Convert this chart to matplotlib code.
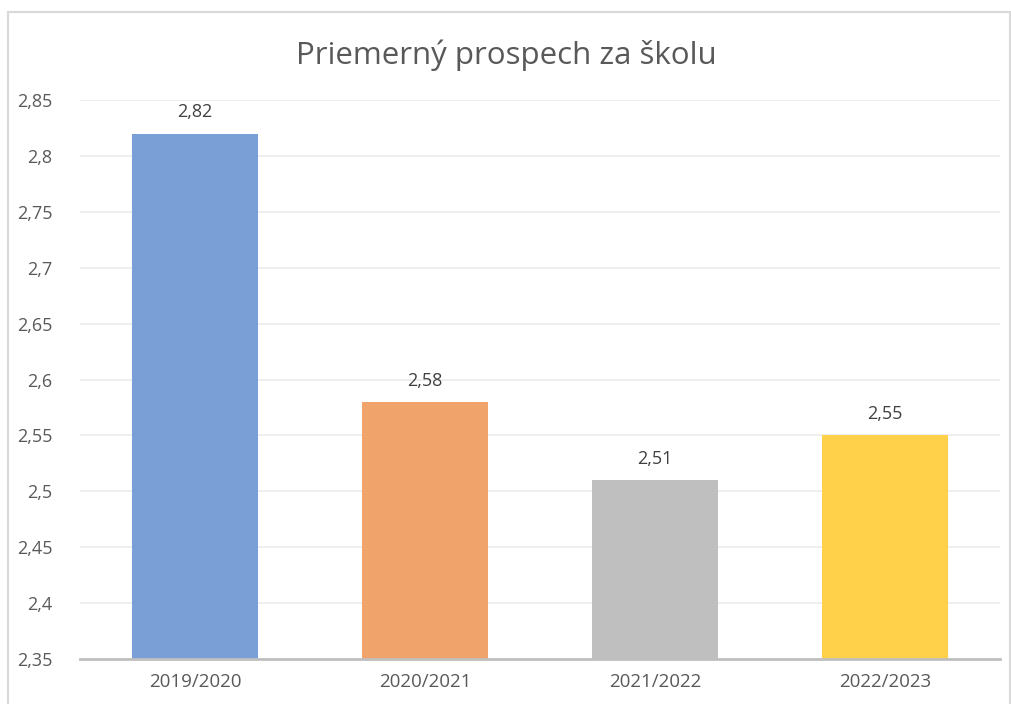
import numpy as np
import matplotlib.pyplot as plt
from matplotlib.patches import Rectangle

# Data
years = ["2019/2020", "2020/2021", "2021/2022", "2022/2023"]
prospech = [2.82, 2.58, 2.51, 2.55]
bar_colors = ["#7A9ED6", "#F0A46C", "#BFBFBF", "#FFD14B"]

y_min = 2.35
y_max = 2.85
y_ticks = np.arange(2.35, 2.851, 0.05)

txt_color = "#595959"
plt.rcParams['font.family'] = ['Open Sans', 'DejaVu Sans']

fig = plt.figure(figsize=(10.12, 7.04), dpi=100)
ax = fig.add_axes([80 / 1012, 1 - 659 / 704, 920 / 1012, 559 / 704])

# chart frame like excel
fig.patches.append(Rectangle((8 / 1012, -0.05), 1002 / 1012, 1.05 - 12 / 704,
                             transform=fig.transFigure, fill=False,
                             edgecolor="#D9D9D9", linewidth=1.5))

x = np.arange(len(years))
bars = ax.bar(x, [v - y_min for v in prospech], bottom=y_min, width=0.55,
              color=bar_colors, zorder=3)

for xi, v in zip(x, prospech):
    ax.text(xi, v + 0.011, f"{v:.2f}".replace(".", ","), ha="center", va="bottom",
            fontsize=13, color="#404040")

ax.set_xlim(-0.5, len(years) - 0.5)
ax.set_ylim(y_min, y_max)
ax.set_yticks(y_ticks)
ax.set_yticklabels([("%g" % round(t, 2)).replace(".", ",") for t in y_ticks])
ax.set_xticks(x)
ax.set_xticklabels(years)
ax.tick_params(axis="both", length=0, labelcolor=txt_color)
ax.tick_params(axis="y", pad=20, labelsize=13)
ax.tick_params(axis="x", pad=10, labelsize=13.5)

ax.grid(axis="y", color="#EBEBEB", linewidth=1.2, zorder=0)
for s in ["top", "right", "left"]:
    ax.spines[s].set_visible(False)
ax.spines["bottom"].set_color("#BFBFBF")
ax.spines["bottom"].set_linewidth(2)
ax.spines["bottom"].set_zorder(4)

fig.text(0.5, 1 - 55 / 704, "Priemerný prospech za školu", ha="center", va="center",
         fontsize=22.5, color=txt_color)

fig.savefig("out.png", dpi=100)
